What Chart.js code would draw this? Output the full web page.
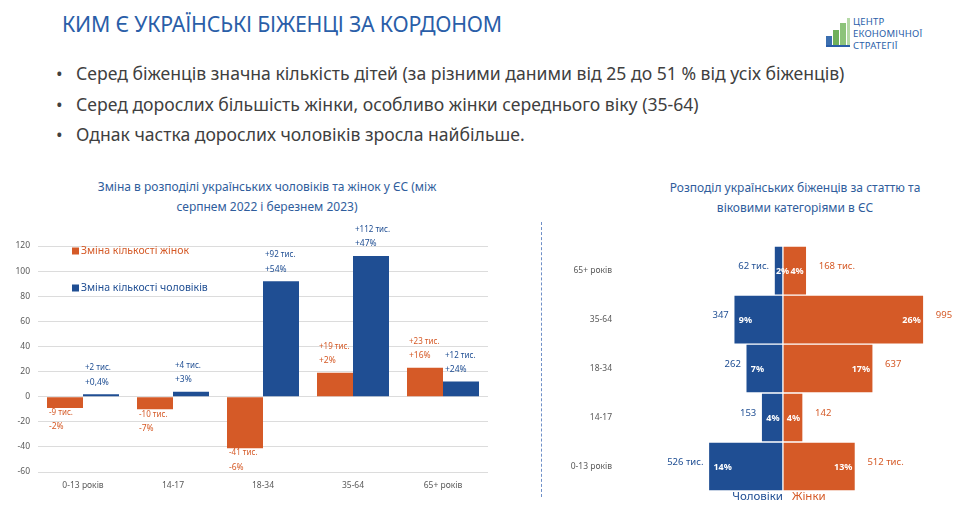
<!DOCTYPE html>
<html lang="uk">
<head>
<meta charset="utf-8">
<title>Ким є українські біженці за кордоном</title>
<script src="https://cdn.jsdelivr.net/npm/chart.js@4.4.0/dist/chart.umd.min.js"></script>
<style>
  html, body { margin: 0; padding: 0; }
  body { width: 960px; height: 507px; position: relative; overflow: hidden; background: #fff; font-family: "Noto Sans", "Open Sans", sans-serif; }
  .abs { position: absolute; white-space: nowrap; }
  #title { left: 62px; top: 9px; font-size: 21.3px; color: #2a5ea8; letter-spacing: -0.2px; }
  .bullet { left: 56px; font-size: 17.6px; color: #404040; }
  .bullet span { display: inline-block; width: 20px; }
  .ctitle { font-size: 12px; color: #2f5d9c; text-align: center; line-height: 20px; }
  #divider { left: 541px; top: 222px; height: 275px; border-left: 1px dashed #6f8fc7; }
  .logo-txt { left: 853px; font-size: 9.5px; color: #2a5ea8; line-height: 12px; top: 16px; letter-spacing: 0.2px; }
  .lb { position: absolute; bottom: 0; }
  #leftWrap { left: 0; top: 215px; width: 505px; height: 290px; }
  #rightWrap { left: 560px; top: 235px; width: 400px; height: 270px; }
</style>
</head>
<body>
<div id="title" class="abs">КИМ Є УКРАЇНСЬКІ БІЖЕНЦІ ЗА КОРДОНОМ</div>
<div class="abs bullet" style="top:61px"><span>•</span>Серед біженців значна кількість дітей (за різними даними від 25 до 51 % від усіх біженців)</div>
<div class="abs bullet" style="top:92px"><span>•</span>Серед дорослих більшість жінки, особливо жінки середнього віку (35-64)</div>
<div class="abs bullet" style="top:122px"><span>•</span>Однак частка дорослих чоловіків зросла найбільше.</div>

<!-- logo -->
<div class="abs" style="left:826px;top:18px;width:24px;height:29px;">
  <div class="lb" style="left:0;width:6px;height:11px;background:#3c6fb0"></div>
  <div class="lb" style="left:7px;width:6px;height:17px;background:#6fb05a"></div>
  <div class="lb" style="left:14px;width:6px;height:24px;background:#8cc37a"></div>
  <div class="lb" style="left:21px;width:3px;height:29px;background:#b5d9a6"></div>
  <div class="lb" style="left:0;width:24px;height:2px;background:#2a5ea8"></div>
</div>
<div class="abs logo-txt">ЦЕНТР<br>ЕКОНОМІЧНОЇ<br>СТРАТЕГІЇ</div>

<div class="abs ctitle" style="left:22px;width:490px;top:177px">Зміна в розподілі українських чоловіків та жінок у ЄС (між<br>серпнем 2022 і березнем 2023)</div>
<div class="abs ctitle" style="left:620px;width:350px;top:178px">Розподіл українських біженців за статтю та<br>віковими категоріями в ЄС</div>
<div id="divider" class="abs"></div>

<div id="leftWrap" class="abs"><canvas id="changeChart"></canvas></div>
<div id="rightWrap" class="abs"><canvas id="pyramidChart"></canvas></div>

<div class="abs" style="right:177px;top:488px;font-size:11.5px;color:#1f4e93">Чоловіки</div>
<div class="abs" style="left:792px;top:488px;font-size:11.5px;color:#d55a27">Жінки</div>

<script>
// Colours
const ORANGE = '#d55a27';
const BLUE = '#1f4e93';

// Left chart: change between Aug 2022 and Mar 2023 (тис.)
const ageGroups = ['0-13 років', '14-17', '18-34', '35-64', '65+ років'];
const womenChange = [-9, -10, -41, 19, 23];
const menChange = [2, 4, 92, 112, 12];
const womenChangePct = ['-2%', '-7%', '-6%', '+2%', '+16%'];
const menChangePct = ['+0,4%', '+3%', '+54%', '+47%', '+24%'];

// Right chart: distribution by sex and age (тис.), top row first
const pyramidGroups = ['65+ років', '35-64', '18-34', '14-17', '0-13 років'];
const menCount = [62, 347, 262, 153, 526];
const womenCount = [168, 995, 637, 142, 512];
const menShare = ['2%', '9%', '7%', '4%', '14%'];
const womenShare = ['4%', '26%', '17%', '4%', '13%'];
const showUnit = [true, false, false, false, true];

const FONT = '"Noto Sans", "Open Sans", sans-serif';

function signed(v) {
    return (v > 0 ? '+' : '') + v;
}

// Labels above / below each bar in the change chart
const changeLabels = {
    id: 'changeLabels',
    afterDatasetsDraw(chart) {
        const ctx = chart.ctx;
        const pcts = [womenChangePct, menChangePct];
        ctx.save();
        ctx.textAlign = 'left';
        ctx.textBaseline = 'middle';
        chart.data.datasets.forEach((ds, di) => {
            chart.getDatasetMeta(di).data.forEach((bar, i) => {
                const v = ds.data[i];
                const x = bar.x - bar.width / 2 + 2;
                const y1 = v >= 0 ? bar.y - 26 : bar.y + 5;
                ctx.fillStyle = ds.backgroundColor;
                ctx.font = '8px ' + FONT;
                ctx.fillText(signed(v) + ' тис.', x, y1);
                ctx.font = '8.5px ' + FONT;
                ctx.fillText(pcts[di][i], x, y1 + 14);
            });
        });
        ctx.restore();
    }
};

// Legend drawn inside the plot area
const innerLegend = {
    id: 'innerLegend',
    afterDraw(chart) {
        const ctx = chart.ctx;
        const a = chart.chartArea;
        ctx.save();
        ctx.font = '10.5px ' + FONT;
        ctx.textBaseline = 'middle';
        chart.data.datasets.forEach((ds, di) => {
            const y = a.top + 5 + di * 37;
            const x = a.left + 34;
            ctx.fillStyle = ds.backgroundColor;
            ctx.fillRect(x, y - 3.5, 7, 7);
            ctx.fillText(ds.label, x + 9, y);
        });
        ctx.restore();
    }
};

// Value and share labels for the pyramid
const pyramidLabels = {
    id: 'pyramidLabels',
    afterDatasetsDraw(chart) {
        const ctx = chart.ctx;
        ctx.save();
        ctx.textBaseline = 'middle';
        chart.data.datasets.forEach((ds, di) => {
            const isMen = di === 0;
            const counts = isMen ? menCount : womenCount;
            const shares = isMen ? menShare : womenShare;
            chart.getDatasetMeta(di).data.forEach((bar, i) => {
                const txt = counts[i] + (showUnit[i] ? ' тис.' : '');
                ctx.font = '9.5px ' + FONT;
                ctx.fillStyle = ds.backgroundColor;
                ctx.textAlign = isMen ? 'right' : 'left';
                ctx.fillText(txt, isMen ? bar.x - 5 : bar.x + 12, bar.y - 4);
                ctx.font = 'bold 9px ' + FONT;
                ctx.fillStyle = '#fff';
                ctx.textAlign = isMen ? 'left' : 'right';
                // keep share text from running into the other side on narrow bars
                const sx = isMen ? Math.min(bar.x + 5, bar.base - 7) : bar.x - 3;
                ctx.fillText(shares[i], sx, bar.y + 1);
            });
        });
        ctx.restore();
    }
};

function setupCharts() {
    const ctx1 = document.getElementById('changeChart').getContext('2d');
    new Chart(ctx1, {
        type: 'bar',
        data: {
            labels: ageGroups,
            datasets: [
                { label: 'Зміна кількості жінок', data: womenChange, backgroundColor: ORANGE },
                { label: 'Зміна кількості чоловіків', data: menChange, backgroundColor: BLUE }
            ]
        },
        options: {
            responsive: true,
            maintainAspectRatio: false,
            animation: false,
            layout: { padding: { top: 31, right: 17, bottom: 0, left: 0 } },
            datasets: { bar: { categoryPercentage: 0.8, barPercentage: 1 } },
            plugins: { legend: { display: false }, tooltip: { enabled: false } },
            scales: {
                x: {
                    grid: { display: false, drawTicks: false },
                    border: { display: false },
                    ticks: { color: '#595959', font: { size: 8.5, family: FONT }, padding: 8 },
                    afterFit: s => { s.height = 33; }
                },
                y: {
                    min: -60, max: 120,
                    grid: { color: '#dcdcdc', drawTicks: false },
                    border: { display: false },
                    ticks: { stepSize: 20, color: '#595959', font: { size: 8.5, family: FONT }, padding: 8 },
                    afterFit: s => { s.width = 38; }
                }
            }
        },
        plugins: [changeLabels, innerLegend]
    });

    const ctx2 = document.getElementById('pyramidChart').getContext('2d');
    new Chart(ctx2, {
        type: 'bar',
        data: {
            labels: pyramidGroups,
            datasets: [
                { label: 'Чоловіки', data: menCount.map(v => -v), backgroundColor: BLUE },
                { label: 'Жінки', data: womenCount, backgroundColor: ORANGE }
            ]
        },
        options: {
            indexAxis: 'y',
            responsive: true,
            maintainAspectRatio: false,
            animation: false,
            layout: { autoPadding: false, padding: { top: 6, right: 15, bottom: 14, left: 0 } },
            datasets: { bar: { categoryPercentage: 1, barPercentage: 1, borderColor: '#fff', borderWidth: 1, borderSkipped: false } },
            plugins: { legend: { display: false }, tooltip: { enabled: false } },
            scales: {
                x: { stacked: true, display: false, min: -1165, max: 1145 },
                y: {
                    stacked: true,
                    grid: { display: false, drawTicks: false },
                    border: { display: false },
                    ticks: { color: '#595959', font: { size: 8.5, family: FONT }, padding: 6 },
                    afterFit: s => { s.width = 58; }
                }
            }
        },
        plugins: [pyramidLabels]
    });
}

window.onload = setupCharts;
</script>
</body>
</html>
